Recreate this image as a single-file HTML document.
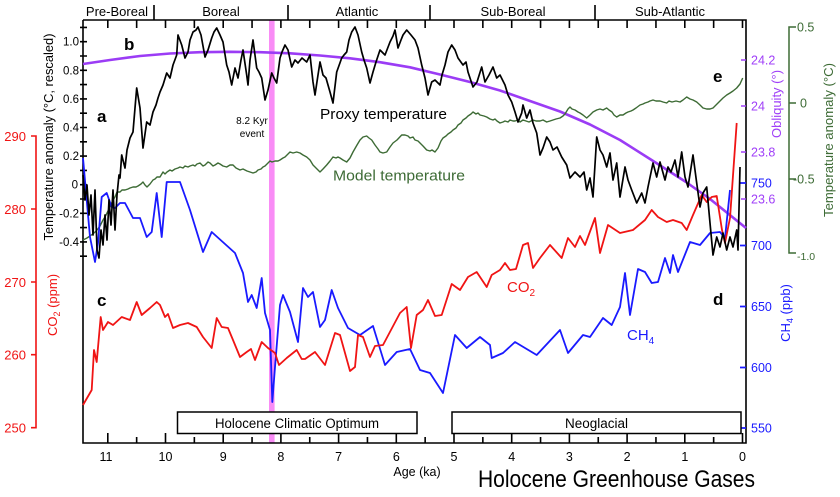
<!DOCTYPE html>
<html><head><meta charset="utf-8"><style>
html,body{margin:0;padding:0;background:#fff;}
svg{display:block;font-family:"Liberation Sans",Arial,sans-serif;}
</style></head><body>
<svg width="840" height="497" viewBox="0 0 840 497" xmlns="http://www.w3.org/2000/svg">
<rect width="840" height="497" fill="#fff"/>
<!-- pink 8.2 band -->
<rect x="269" y="20" width="5.6" height="423" fill="#f98cf6"/>

<!-- frame -->
<g stroke="#000" stroke-width="1.6" fill="none">
<path d="M83 20V443H746V20H83"/>
<!-- top dividers -->
<path d="M154 5V20M288 5V20M430 5V20M595 5V20"/>
<!-- top ticks -->
<path d="M742.5 20V28M684.8 20V28M627.1 20V28M569.4 20V28M511.7 20V28M454 20V28M396.3 20V28M338.6 20V28M280.9 20V28M223.2 20V28M165.5 20V28M107.8 20V28M713.65 20V28M655.95 20V28M598.25 20V28M540.55 20V28M482.85 20V28M425.15 20V28M367.45 20V28M309.75 20V28M252.05 20V28M194.35 20V28M136.65 20V28"/>
<!-- bottom ticks -->
<path d="M742.5 443V433M684.8 443V433M627.1 443V433M569.4 443V433M511.7 443V433M454 443V433M396.3 443V433M338.6 443V433M280.9 443V433M223.2 443V433M165.5 443V433M107.8 443V433"/>
<path d="M713.65 443V437M655.95 443V437M598.25 443V437M540.55 443V437M482.85 443V437M425.15 443V437M367.45 443V437M309.75 443V437M252.05 443V437M194.35 443V437M136.65 443V437"/>
<!-- left ticks -->
<path d="M80 256.2H87M80 241.9H87M80 227.6H87M80 213.3H87M80 199H87M80 184.7H87M80 170.4H87M80 156.1H87M80 141.8H87M80 127.5H87M80 113.2H87M80 98.9H87M80 84.6H87M80 70.3H87M80 56H87M80 41.7H87M80 27.4H87"/>
</g>

<!-- period labels -->
<g font-size="13" fill="#000" text-anchor="middle">
<text x="117" y="16">Pre-Boreal</text>
<text x="221" y="16">Boreal</text>
<text x="357" y="16">Atlantic</text>
<text x="513" y="16">Sub-Boreal</text>
<text x="670" y="16">Sub-Atlantic</text>
</g>

<!-- left temp labels -->
<g font-size="11.5" fill="#000" text-anchor="end">
<text x="79" y="45.7">1.0</text>
<text x="79" y="74.3">0.8</text>
<text x="79" y="102.9">0.6</text>
<text x="79" y="131.5">0.4</text>
<text x="79" y="160.1">0.2</text>
<text x="78" y="188.7">0</text>
<text x="79" y="217.3">-0.2</text>
<text x="79" y="245.9">-0.4</text>
</g>
<text transform="translate(53,137) rotate(-90)" font-size="13" text-anchor="middle" textLength="207" lengthAdjust="spacingAndGlyphs" fill="#000">Temperature anomaly (°C, rescaled)</text>

<!-- CO2 axis -->
<g stroke="#f01414" stroke-width="1.6" fill="none">
<path d="M31 136H36V427.7H31M31 209H36M31 282H36M31 354.7H36"/>
</g>
<g font-size="13" fill="#f01414" text-anchor="end">
<text x="26" y="141">290</text>
<text x="26" y="214">280</text>
<text x="26" y="287">270</text>
<text x="26" y="359.7">260</text>
<text x="26" y="432.7">250</text>
</g>
<text transform="translate(57,305) rotate(-90)" font-size="13" text-anchor="middle" fill="#f01414">CO<tspan font-size="9" dy="3">2</tspan><tspan dy="-3"> (ppm)</tspan></text>

<!-- obliquity axis -->
<g stroke="#a040f8" stroke-width="1.6"><path d="M741 60H746M741 106H746M741 152H746M741 199H746"/></g>
<g font-size="12.5" fill="#a040f8">
<text x="751" y="64.5">24.2</text>
<text x="751" y="110.5">24</text>
<text x="751" y="156.5">23.8</text>
<text x="751" y="203.5">23.6</text>
</g>
<text transform="translate(781,104) rotate(-90)" font-size="13" text-anchor="middle" fill="#a040f8">Obliquity (°)</text>

<!-- CH4 axis -->
<g stroke="#1a1aff" stroke-width="1.8"><path d="M740 183H746M740 245.5H746M740 306.5H746M740 367.5H746M740 428H746"/></g>
<g font-size="12.5" fill="#1a1aff">
<text x="751" y="187.5">750</text>
<text x="751" y="250">700</text>
<text x="751" y="311">650</text>
<text x="751" y="372">600</text>
<text x="751" y="432.5">550</text>
</g>
<text transform="translate(790,313) rotate(-90)" font-size="13" text-anchor="middle" fill="#1a1aff">CH<tspan font-size="9" dy="3">4</tspan><tspan dy="-3"> (ppb)</tspan></text>

<!-- green axis -->
<g stroke="#3d6b35" stroke-width="1.5" fill="none"><path d="M796 27H789V253H796M789 103H796M789 179H796"/></g>
<g font-size="12.5" fill="#3d6b35">
<text x="797" y="31.5">0.5</text>
<text x="800" y="107.5">0</text>
<text x="793" y="183.5">-0.5</text>
<text x="797" y="260" font-size="10.5">-1.0</text>
</g>
<text transform="translate(833,140) rotate(-90)" font-size="13" text-anchor="middle" textLength="154" lengthAdjust="spacingAndGlyphs" fill="#3d6b35">Temperature anomaly (°C)</text>

<!-- boxes -->
<rect x="177.5" y="412" width="239.5" height="21.5" fill="#fff" stroke="#000" stroke-width="1.5"/>
<rect x="452" y="412" width="289" height="21.5" fill="#fff" stroke="#000" stroke-width="1.5"/>
<text x="297" y="428" font-size="13.5" text-anchor="middle" textLength="164" lengthAdjust="spacingAndGlyphs">Holocene Climatic Optimum</text>
<text x="596.5" y="428" font-size="13.5" text-anchor="middle">Neoglacial</text>

<!-- obliquity curve -->
<polyline fill="none" stroke="#9b3cf5" stroke-width="2.6" stroke-linejoin="round" points="83,64 110,60 140,56 170,53.5 200,52.2 230,51.8 260,52.2 290,53.3 320,55.5 350,58.3 380,62.2 410,67.3 440,74.5 470,82 500,90.5 530,101 560,111.5 590,124.5 620,140 650,159 686,182 710,199 746,228"/>

<!-- model temperature (green) -->
<polyline fill="none" stroke="#3d6b35" stroke-width="1.4" stroke-linejoin="round" points="83,240 87,238 90,236 94,233 97,230 100,226 103,220 105,217 107,213 110,207 113,200 115,197 117,192 120,192 122,190 125,190 128,189 130,188 133,187 136,187 138,186 141,184 143,182 145,185 147,187 150,184 153,180 155,179 157,177 160,177 163,172 165,174 167,172 170,170 172,171 175,169 178,168 180,167 183,168 185,166 188,167 190,166 193,165 195,166 197,164 200,163 203,166 205,165 208,162 210,163 213,166 215,165 218,163 220,164 223,166 226.7,167 230,165 233,165 236,168 240,170 243,169 247,171 250,172 253,173 256,172 258,170 261,169 263,167 265,166 267,164 270,161 272,162 275,161 278,161 280,160 283,158 285,157 288,154 290,152 293,153 296.7,152 300,153 303,155 306.7,157 310,160 313,165 316,168 320,172 323,169 326.7,165 330,161 333,157 336,158 338,157 340,158 343,160 346.7,162 350,158 353,152 357,145 360,140 363,137 366.7,136 369,138 371.7,140 375,145 378,149 380,152 383,153 386.7,152 390,147 393,143 397,140 401.7,135 405,135 408,136 410,138 413,137 415,140 418,141 420,143 423,146 426.7,150 430,151 432,150 435,152 438,148 441,141 443,138 446,136 448,134 451,132 453,130 456,128 458,125 461,123 463,120 466,118 468,116 471,114 473,112 476,114 478,113 480,115 484,116 486.7,117 490,119 493,120 495,119 497,121 500,123 503,122 505,121 508,122 510,120 513,121 515,121 518,120 520,122 523,120 526,121 529,122 533,120 536,121 540,121 543,120 546.7,122 550,121 553,120 556,119 560,118 563,116 565,114 568,109 570,107 572,109 575,110 578,112 580,113 583,115 586.7,118 590,115 593,112 596.7,110 600,109 603,110 606.7,108 609,110 612,112 614,115 616.7,117 620,115 623,115 626,113 628,112 631,111 633,110 636,108 640,105 643,104 645,103 648,102 650,101 653,100 656,101 660,101 663,102 666.7,103 669,101 672,102 676,101 680,102 683,100 686.7,97 690,99 693,100 696.7,102 700,105 703,108 706.7,109 710,109 713,108 716,105 720,101 723,98 726.7,95 730,93 733,91 736.7,88 740,84 742.7,78"/>

<!-- CH4 (blue) -->
<polyline fill="none" stroke="#1a1aff" stroke-width="1.8" stroke-linejoin="round" points="83,158 86.7,200 90,237 95,262 98,243 101.7,197 106.7,193 111.7,207 115,208 120,203 125,203 133,218 140,218 146.7,237 151.7,232 156.7,193 161.7,237 166.7,182 180,182 190,210 203,252 211.7,232 235,253 243,273 248,302 251.7,295 256.7,308 261.7,278 265,313 270,330 272.3,402 275,367 280,305 283,295 290,312 298,342 303,288 308,297 313,292 320,327 325,320 331.7,290 338,308 348,328 360,335 373,326 385,365 396.7,352 410,349 420,370 430,373 443,393 455,335 466.7,348 480,337 490,345 491.7,358 503,353 515,342 520,345 536.7,355 560,330 568,353 583,335 590,337 603,318 611.7,325 620,307 625,273 630,315 638,269 645,272 651.7,283 658,282 665,258 670,273 673,255 678,272 690,242 700,245 710,233 720,232 725,238 730,190"/>

<!-- CO2 (red) -->
<polyline fill="none" stroke="#f01414" stroke-width="1.8" stroke-linejoin="round" points="83,405 91.7,390 94,350 96.7,362 100.7,317 103,330 108,322 113,325 121.7,317 130,320 136.7,302 141.7,315 150,308 156.7,302 160,305 165,317 168,314 173,328 180,325 188,323 196.7,327 203,337 211.7,348 216.7,318 221.7,327 228,328 233,340 240,357 246.7,352 251,349 255,360 261.7,342 268,348 275,353 279,365 286.7,358 296.7,350 301.7,359 305,359 315,352 325,365 335,333 340,335 350,371 355,367 358,335 363,337 370,357 375,346 383,345 400,313 406.7,307 411,348 416.7,315 423,310 428,300 435,316 441.7,315 451.7,284 460,290 468,277 476.7,272 486.7,287 491.7,275 500,270 505,263 510,270 516,269 523,245 528,243 533,268 540,258 550,245 561.7,258 568,238 575,247 580,236 585,245 595,218 600,253 608,225 620,233 633,230 645,220 651.7,210 658,217 666.7,222 673,220 681.7,223 686.7,230 693,215 701.7,195 706.7,202 711.7,197 716.7,196 722,230 725,243 730,218 736.7,123"/>

<!-- proxy temperature (black) -->
<polyline fill="none" stroke="#000" stroke-width="1.7" stroke-linejoin="round" points="83,175 85,200 87,185 89,215 91,195 93,235 95,190 97,250 99,258 101,230 103,245 105,215 107,240 109,200 111,225 113,190 115,230 117,195 119,175 120,178 121.7,155 125,168 127,150 130,138 133,132 135,108 136.7,88 140,108 143,148 146.7,122 150,125 153,112 156,105 158,98 160,92 163,85 166.7,73 170,78 173,65 176.7,55 178,35 181.7,45 185,58 188,52 190,40 193,32 196,30 198,27 201,35 205,57 208,50 211.7,38 214,32 216.7,28 220,35 223,42 226.7,65 229,72 231.7,85 235,68 238,78 241,60 243,50 246.7,75 248,85 250,60 253,40 256.7,68 259,72 261.7,78 265,100 268,90 271.7,73 274,78 276.7,83 280,58 282,52 285,45 288,50 291.7,67 295,60 298,63 302,58 306.7,62 310,55 313,82 315,95 318,75 320,62 323,75 326,78 330,92 333,103 336.7,72 341.7,58 344,55 346.7,52 349,40 351.7,32 355,27 358,35 361.7,52 364,60 366.7,68 370,83 373,72 376,62 380,50 385,55 390,42 393,36 395,30 398,48 401,40 403,35 406.7,30 411,35 415,40 418,48 421.7,65 425,78 428,95 431.7,82 435,80 440,85 442,75 445,65 448,52 451.7,45 455,50 458,58 463,65 466,62 468,72 473,87 477,82 481.7,67 485,82 489,75 493,67 496.7,78 500,75 505,85 508,95 511.7,102 515,112 518,122 521.7,113 523,105 526.7,118 530,110 533,123 536.7,133 540,155 543,148 546.7,137 550,142 553,150 557,147 561.7,157 566.7,165 570,178 575,172 580,177 584,172 586.7,190 590,178 593,197 596.7,137 600,150 603,155 606.7,167 610,153 613,180 616.7,163 620,197 625,167 628,180 631.7,190 636.7,203 641.7,193 645,203 648,187 653,163 656.7,177 660,162 665,180 668,167 671,172 675,160 678,177 681.7,152 685,177 688,187 693,155 696.7,183 700,207 703,193 706.7,187 710,223 713,255 716.7,237 720,247 723,233 726.7,250 730,237 733,247 736.7,230 738,250 740,167"/>

<!-- annotations -->
<g font-weight="bold" font-size="17" fill="#000">
<text x="97" y="122">a</text>
<text x="124" y="50">b</text>
<text x="97" y="306">c</text>
<text x="713" y="305">d</text>
<text x="713" y="82">e</text>
</g>
<g font-size="10" fill="#000" text-anchor="middle">
<text x="252" y="124">8.2 Kyr</text>
<text x="252" y="137">event</text>
</g>
<text x="320" y="119" font-size="15" textLength="127" lengthAdjust="spacingAndGlyphs" fill="#000">Proxy temperature</text>
<text x="333" y="180.5" font-size="15" textLength="132" lengthAdjust="spacingAndGlyphs" fill="#3d6b35">Model temperature</text>
<text x="507" y="292" font-size="15" fill="#f01414">CO<tspan font-size="10" dy="4">2</tspan></text>
<text x="627" y="340" font-size="15" fill="#1a1aff">CH<tspan font-size="10" dy="4">4</tspan></text>

<!-- x labels -->
<g font-size="12.5" fill="#000" text-anchor="middle">
<text x="106" y="461">11</text>
<text x="165.5" y="461">10</text>
<text x="223.2" y="461">9</text>
<text x="280.9" y="461">8</text>
<text x="338.6" y="461">7</text>
<text x="396.3" y="461">6</text>
<text x="454" y="461">5</text>
<text x="511.7" y="461">4</text>
<text x="569.4" y="461">3</text>
<text x="627.1" y="461">2</text>
<text x="684.8" y="461">1</text>
<text x="742.5" y="461">0</text>
</g>
<text x="417" y="476" font-size="12.5" text-anchor="middle">Age (ka)</text>
<text x="478" y="487" font-size="24" textLength="277" lengthAdjust="spacingAndGlyphs" fill="#000">Holocene Greenhouse Gases</text>
</svg>
</body></html>
